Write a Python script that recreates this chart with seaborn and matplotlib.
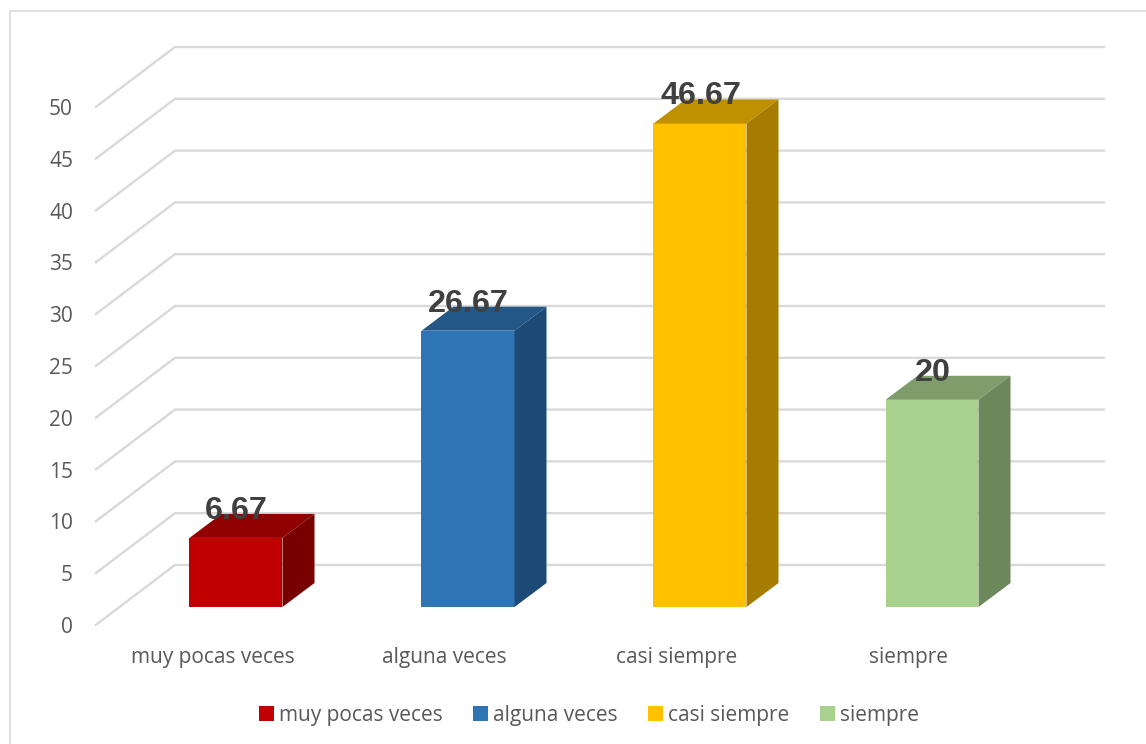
import numpy as np
import pandas as pd
import matplotlib
matplotlib.use("Agg")
import matplotlib.pyplot as plt
from matplotlib.lines import Line2D
import seaborn as sns

# datos del grafico
categorias = ["muy pocas veces", "alguna veces", "casi siempre", "siempre"]
valores = [6.67, 26.67, 46.67, 20]
etiquetas = ["6.67", "26.67", "46.67", "20"]
ticks_y = [0, 5, 10, 15, 20, 25, 30, 35, 40, 45, 50]

color_frente = ["#C00000", "#2E75B6", "#FFC000", "#A9D18E"]
color_arriba = ["#900000", "#225788", "#BF9000", "#7F9D6A"]
color_lado = ["#780000", "#1D4A74", "#A67C00", "#6C8759"]

# escala en pixeles de la imagen
W, H = 1146, 744
px_x = 232.0    # pixeles por categoria
px_y = 10.36    # pixeles por unidad
x0_px, y0_px = 236.0, 607.0  # centro de la primera barra, base de las barras

df = pd.DataFrame({"categoria": categorias, "valor": valores})

sns.set_style("white")
plt.rcParams["font.family"] = ["Open Sans", "DejaVu Sans"]

fig = plt.figure(figsize=(W / 100, H / 100), dpi=100)
ax = fig.add_axes([0, 0, 1, 1])

sns.barplot(data=df, x="categoria", y="valor", hue="categoria", order=categorias,
            hue_order=categorias, palette=color_frente, dodge=False, width=93 / px_x,
            saturation=1, legend=True, ax=ax, zorder=3, linewidth=0)

ax.set_xlim(-x0_px / px_x, (W - x0_px) / px_x)
ax.set_ylim(-(H - y0_px) / px_y, y0_px / px_y)
ax.set_axis_off()

dx = lambda p: p / px_x
dy = lambda p: p / px_y

# paredes: lineas de la cuadricula
x_frente = dx(95 - x0_px)
x_fondo = dx(175 - x0_px)
x_fin = dx(1105 - x0_px)
for t in ticks_y:
    y_frente = t + dy(-18.5)
    y_fondo = t + dy(42)
    ax.plot([x_frente, x_fondo, x_fin], [y_frente, y_fondo, y_fondo], color="#D9D9D9",
            lw=1.7, zorder=1, solid_joinstyle="miter", solid_capstyle="butt")
    ax.text(dx(73 - x0_px), y_frente + dy(-2), str(t), ha="right", va="center", fontsize=15,
            color="#595959")

# caras de arriba y del lado de cada barra
prof_x, prof_y = dx(32), dy(24)
barras = [b for b in ax.patches if b.get_height() > 0]
for i, b in enumerate(barras):
    x1, x2 = b.get_x(), b.get_x() + b.get_width()
    v = b.get_height()
    ax.fill([x1, x2, x2 + prof_x, x1 + prof_x], [v, v, v + prof_y, v + prof_y],
            color=color_arriba[i], lw=0, zorder=3)
    ax.fill([x2, x2 + prof_x, x2 + prof_x, x2], [0, prof_y, v + prof_y, v],
            color=color_lado[i], lw=0, zorder=3)
    ax.text(i + dx(0.5), v + dy(27), etiquetas[i], ha="center", va="center", fontsize=23.3,
            fontweight="bold", family="Liberation Sans", color="#404040", zorder=4)
    ax.text(i + dx(-23.5), dy(-50), categorias[i], ha="center", va="center", fontsize=15,
            color="#595959")

# leyenda
ax.legend(loc="center", bbox_to_anchor=(589 / W, 1 - 715 / H), ncol=4, frameon=False,
          fontsize=15, labelcolor="#595959", handlelength=0.72, handleheight=0.72,
          handletextpad=0.25, columnspacing=1.46, borderpad=0)

# marco del grafico
fig.add_artist(Line2D([9.5 / W, 9.5 / W, 1], [0, 1 - 10.5 / H, 1 - 10.5 / H],
                      color="#D9D9D9", lw=1.2))

fig.savefig("out.png", dpi=100)
